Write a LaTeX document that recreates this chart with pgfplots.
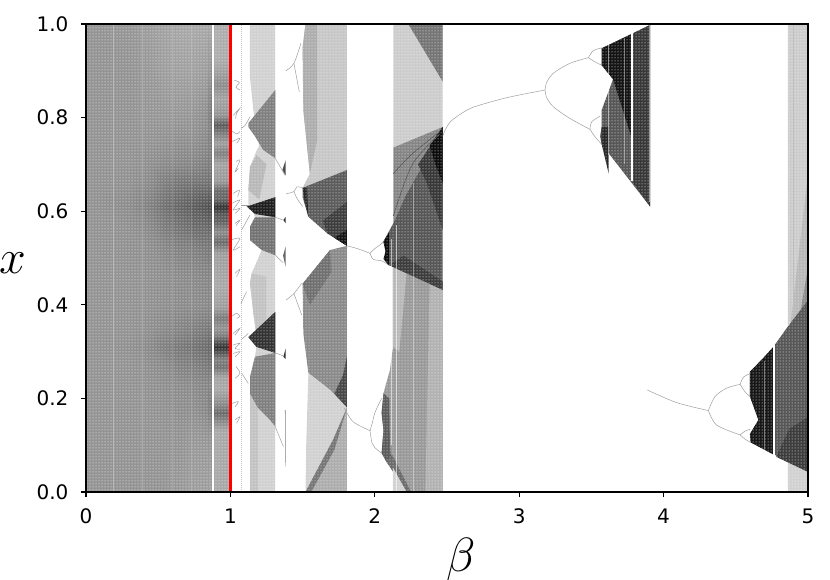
\documentclass[border=0pt]{standalone}
\usepackage{fontspec}
\setmainfont{DejaVu Sans}
\usepackage{pgfplots}
\pgfplotsset{compat=1.18}
\usetikzlibrary{patterns}

% polygon: #1 = darkness (percent black), #2 = outline
\newcommand\poly[2]{\addplot[draw=none,fill=black!#1,mark=none,forget plot] coordinates {#2} --cycle;}
% thin branch of the diagram
\newcommand\br[1]{\addplot[black!38,line width=0.5pt,mark=none,smooth,tension=0.5,forget plot] coordinates {#1};}
% light streak
\newcommand\st[3]{\addplot[white,opacity=#3,line width=0.8pt,mark=none,forget plot] coordinates {#1 #2};}
% fine regular grain of the sampling over a strip
\newcommand\grain[2]{\addplot[draw=none,pattern=dots,pattern color=white,forget plot] coordinates {(#1,0)(#2,0)(#2,1)(#1,1)} --cycle;}

\begin{document}
\begin{tikzpicture}
\path[use as bounding box] (-86pt,-88pt) rectangle (744pt,492pt);
\begin{axis}[
    scale only axis,
    width=722pt,
    height=468pt,
    at={(0pt,0pt)},
    anchor=south west,
    xmin=0, xmax=5,
    ymin=0, ymax=1,
    xtick={0,1,2,3,4,5},
    ytick={0,0.2,0.4,0.6,0.8,1},
    xtick pos=bottom,
    ytick pos=left,
    tick align=outside,
    major tick length=5pt,
    tick style={black,line width=1.2pt},
    axis line style={line width=1.4pt},
    axis on top,
    /pgf/number format/assume math mode=true,
    tick label style={font=\fontsize{20}{24}\selectfont},
    yticklabel style={xshift=-9pt,/pgf/number format/fixed,/pgf/number format/fixed zerofill,/pgf/number format/precision=1},
    xticklabel style={yshift=-8pt,/pgf/number format/fixed,/pgf/number format/precision=0},
    colormap={bk}{gray(0cm)=(0); gray(1cm)=(1)},
    point meta min=0, point meta max=1,
    every axis x label/.style={at={(axis description cs:0.52,-0.145)},anchor=center},
    every axis y label/.style={at={(axis description cs:-0.101,0.49)},anchor=center},
    xlabel={\fontsize{24.88}{30}\selectfont\scalebox{1.93}{$\beta$}},
    ylabel={\fontsize{24.88}{30}\selectfont\scalebox{1.93}{$x$}},
]

% quasi-uniform region, beta < 0.87: mean grey level on a coarse grid
\addplot[surf,shader=interp,mesh/rows=18,mesh/cols=8,point meta=explicit,forget plot]
table[x=b,y=x,meta=g,row sep=\\]{
b x g\\
0 0 .58\\ .3 0 .58\\ .45 0 .58\\ .55 0 .58\\ .65 0 .60\\ .75 0 .62\\ .83 0 .62\\ .872 0 .62\\
0 .1 .58\\ .3 .1 .58\\ .45 .1 .58\\ .55 .1 .58\\ .65 .1 .58\\ .75 .1 .60\\ .83 .1 .60\\ .872 .1 .58\\
0 .17 .58\\ .3 .17 .58\\ .45 .17 .58\\ .55 .17 .57\\ .65 .17 .56\\ .75 .17 .56\\ .83 .17 .54\\ .872 .17 .46\\
0 .23 .58\\ .3 .23 .58\\ .45 .23 .57\\ .55 .23 .56\\ .65 .23 .55\\ .75 .23 .54\\ .83 .23 .53\\ .872 .23 .51\\
0 .27 .58\\ .3 .27 .58\\ .45 .27 .56\\ .55 .27 .54\\ .65 .27 .51\\ .75 .27 .50\\ .83 .27 .48\\ .872 .27 .44\\
0 .31 .58\\ .3 .31 .57\\ .45 .31 .54\\ .55 .31 .50\\ .65 .31 .47\\ .75 .31 .45\\ .83 .31 .43\\ .872 .31 .38\\
0 .35 .58\\ .3 .35 .58\\ .45 .35 .56\\ .55 .35 .54\\ .65 .35 .52\\ .75 .35 .50\\ .83 .35 .48\\ .872 .35 .46\\
0 .4 .58\\ .3 .4 .58\\ .45 .4 .57\\ .55 .4 .56\\ .65 .4 .55\\ .75 .4 .55\\ .83 .4 .54\\ .872 .4 .52\\
0 .46 .58\\ .3 .46 .58\\ .45 .46 .57\\ .55 .46 .56\\ .65 .46 .55\\ .75 .46 .54\\ .83 .46 .53\\ .872 .46 .51\\
0 .52 .58\\ .3 .52 .57\\ .45 .52 .56\\ .55 .52 .53\\ .65 .52 .51\\ .75 .52 .50\\ .83 .52 .48\\ .872 .52 .46\\
0 .56 .58\\ .3 .56 .57\\ .45 .56 .54\\ .55 .56 .49\\ .65 .56 .46\\ .75 .56 .43\\ .83 .56 .43\\ .872 .56 .40\\
0 .61 .58\\ .3 .61 .55\\ .45 .61 .50\\ .55 .61 .44\\ .65 .61 .40\\ .75 .61 .36\\ .83 .61 .33\\ .872 .61 .28\\
0 .66 .58\\ .3 .66 .57\\ .45 .66 .54\\ .55 .66 .49\\ .65 .66 .46\\ .75 .66 .45\\ .83 .66 .45\\ .872 .66 .42\\
0 .7 .58\\ .3 .7 .58\\ .45 .7 .56\\ .55 .7 .54\\ .65 .7 .53\\ .75 .7 .52\\ .83 .7 .50\\ .872 .7 .46\\
0 .75 .58\\ .3 .75 .58\\ .45 .75 .58\\ .55 .75 .57\\ .65 .75 .56\\ .75 .75 .56\\ .83 .75 .54\\ .872 .75 .46\\
0 .8 .58\\ .3 .8 .58\\ .45 .8 .59\\ .55 .8 .59\\ .65 .8 .59\\ .75 .8 .58\\ .83 .8 .56\\ .872 .8 .44\\
0 .9 .58\\ .3 .9 .58\\ .45 .9 .60\\ .55 .9 .62\\ .65 .9 .63\\ .75 .9 .63\\ .83 .9 .62\\ .872 .9 .56\\
0 1 .58\\ .3 1 .59\\ .45 1 .62\\ .55 1 .64\\ .65 1 .66\\ .75 1 .66\\ .83 1 .66\\ .872 1 .66\\
};
\grain{0}{.872}

% band between the white line and beta = 1, with its dark stripes
\addplot[surf,shader=interp,mesh/rows=35,mesh/cols=2,point meta=explicit,forget plot]
table[x=b,y=x,meta=g,row sep=\\]{
b x g\\
.884 0 .66\\ .99 0 .66\\ .884 .13 .66\\ .99 .13 .66\\ .884 .15 .55\\ .99 .15 .55\\ .884 .169 .42\\ .99 .169 .42\\
.884 .19 .55\\ .99 .19 .55\\ .884 .22 .66\\ .99 .22 .66\\ .884 .245 .64\\ .99 .245 .64\\ .884 .267 .45\\ .99 .267 .45\\
.884 .285 .5\\ .99 .285 .5\\ .884 .31 .2\\ .99 .31 .2\\ .884 .335 .5\\ .99 .335 .5\\ .884 .35 .58\\ .99 .35 .58\\
.884 .372 .48\\ .99 .372 .48\\ .884 .395 .62\\ .99 .395 .62\\ .884 .44 .66\\ .99 .44 .66\\ .884 .51 .62\\ .99 .51 .62\\
.884 .534 .42\\ .99 .534 .42\\ .884 .555 .55\\ .99 .555 .55\\ .884 .58 .38\\ .99 .58 .38\\ .884 .595 .35\\ .99 .595 .35\\
.884 .61 .2\\ .99 .61 .2\\ .884 .625 .4\\ .99 .625 .4\\ .884 .645 .42\\ .99 .645 .42\\ .884 .665 .6\\ .99 .665 .6\\
.884 .7 .64\\ .99 .7 .64\\ .884 .724 .5\\ .99 .724 .5\\ .884 .745 .62\\ .99 .745 .62\\ .884 .765 .5\\ .99 .765 .5\\
.884 .784 .36\\ .99 .784 .36\\ .884 .805 .58\\ .99 .805 .58\\ .884 .84 .64\\ .99 .84 .64\\ .884 .87 .55\\ .99 .87 .55\\
.884 .895 .62\\ .99 .895 .62\\ .884 .93 .68\\ .99 .93 .68\\ .884 1 .68\\ .99 1 .68\\
};
\grain{.884}{.99}

% pale vertical streaks in the left region
\st{(.19,0)}{(.19,1)}{.3}
\st{(.39,0)}{(.39,1)}{.2}
\st{(.6,0)}{(.6,1)}{.15}
\st{(.73,0)}{(.73,1)}{.15}

% band near beta = 1.2: pale base, then wedges
\poly{18}{(1.135,1)(1.31,1)(1.31,0)(1.136,0)(1.136,.21)(1.136,.246)(1.17,.289)(1.18,.31)(1.124,.331)(1.175,.346)(1.159,.382)(1.136,.446)(1.147,.467)(1.217,.517)(1.136,.538)(1.136,.567)(1.17,.587)(1.16,.597)(1.124,.615)(1.124,.645)(1.136,.695)(1.182,.73)(1.2,.74)(1.17,.79)(1.159,.816)(1.135,.887)}
\poly{24}{(1.136,0)(1.19,0)(1.19,.18)(1.136,.21)}
\poly{28}{(1.182,.72)(1.136,.695)(1.124,.645)(1.2,.625)(1.25,.7)}
\poly{24}{(1.147,.467)(1.136,.446)(1.159,.382)(1.175,.346)(1.25,.37)(1.25,.46)}
\poly{50}{(1.124,.788)(1.311,.859)(1.311,.713)(1.227,.731)(1.17,.76)(1.124,.78)}
\poly{55}{(1.17,.587)(1.136,.567)(1.136,.538)(1.217,.517)(1.311,.506)(1.311,.587)}
\poly{50}{(1.17,.289)(1.136,.246)(1.136,.21)(1.19,.18)(1.274,.154)(1.311,.14)(1.311,.297)}
\poly{88}{(1.113,.61)(1.311,.63)(1.311,.587)(1.17,.594)}
\poly{80}{(1.124,.331)(1.311,.385)(1.311,.297)(1.18,.31)}

% band 1.5 to 1.8
\poly{22}{(1.52,1)(1.807,1)(1.807,.688)(1.5,.65)(1.55,.68)(1.505,.816)(1.5,.95)}
\poly{32}{(1.52,1)(1.6,1)(1.6,.75)(1.55,.68)(1.505,.816)(1.5,.95)}
\poly{64}{(1.50,.65)(1.807,.688)(1.807,.526)(1.67,.553)(1.54,.588)(1.5,.63)}
\poly{76}{(1.807,.62)(1.807,.526)(1.67,.553)(1.64,.58)}
\poly{92}{(1.807,.56)(1.807,.526)(1.72,.543)}
\poly{84}{(1.5,.65)(1.515,.62)(1.54,.588)(1.53,.65)}
\poly{46}{(1.5,.445)(1.69,.517)(1.807,.526)(1.807,.18)(1.69,.218)(1.54,.254)(1.505,.339)}
\poly{56}{(1.5,.445)(1.69,.517)(1.70,.47)(1.55,.40)}
\poly{72}{(1.72,.21)(1.807,.18)(1.807,.29)(1.78,.25)}
\poly{18}{(1.54,.254)(1.69,.218)(1.807,.18)(1.71,.111)(1.52,0)(1.525,.1)}
\poly{32}{(1.52,0)(1.71,.111)(1.807,.18)(1.807,0)}
\poly{54}{(1.52,0)(1.71,.111)(1.807,.18)(1.72,.09)(1.56,0)}

% band 2.13 to 2.47
\poly{20}{(2.128,1)(2.47,1)(2.47,.78)(2.128,.736)}
\poly{54}{(2.232,1)(2.47,1)(2.47,.877)}
\poly{40}{(2.126,.481)(2.47,.432)(2.47,0)(2.22,0)(2.08,.065)(2.047,.083)(2.06,.132)(2.047,.169)(2.06,.211)(2.105,.261)(2.126,.31)}
\poly{30}{(2.35,0)(2.47,0)(2.47,.432)(2.38,.445)}
\poly{28}{(2.126,.481)(2.22,.467)(2.17,.3)(2.126,.31)}
\poly{64}{(2.06,.211)(2.047,.169)(2.06,.132)(2.047,.083)(2.08,.065)(2.12,.05)(2.105,.1)(2.10,.2)}
\poly{58}{(2.08,.065)(2.22,0)(2.25,0)(2.12,.08)}
\poly{18}{(2.126,0)(2.22,0)(2.126,.052)}
\poly{48}{(2.128,.736)(2.47,.78)(2.47,.745)(2.313,.688)(2.209,.631)(2.128,.574)}
\poly{66}{(2.059,.535)(2.128,.574)(2.209,.631)(2.313,.688)(2.45,.745)(2.47,.78)(2.47,.432)(2.094,.485)}
\poly{78}{(2.47,.78)(2.47,.56)(2.36,.66)(2.3,.70)}
\poly{95}{(2.47,.78)(2.47,.66)(2.42,.70)(2.38,.74)}
\poly{76}{(2.1,.485)(2.47,.432)(2.47,.45)(2.2,.505)}
\poly{95}{(2.06,.535)(2.10,.555)(2.10,.485)(2.094,.485)(2.06,.498)(2.075,.515)}
\addplot[black!66,line width=0.7pt,smooth,forget plot] coordinates {(2.128,.68)(2.25,.72)(2.45,.77)};
\addplot[black!66,line width=0.7pt,smooth,forget plot] coordinates {(2.128,.59)(2.26,.70)(2.45,.765)};

% right-hand pale band
\poly{20}{(4.86,1)(5,1)(5,.41)(4.86,.355)}
\poly{18}{(4.86,0)(5,0)(5,.043)(4.86,.065)}
\poly{28}{(4.88,.36)(5,.68)(5,.41)}
\poly{46}{(4.95,.39)(5,.48)(5,.41)}
\addplot[black!26,line width=0.8pt,forget plot] coordinates {(4.9,1)(4.9,.36)};

% band 3.57 to 3.9
\poly{66}{(3.571,.948)(3.906,.998)(3.906,.61)(3.571,.743)(3.56,.76)(3.571,.78)(3.571,.816)(3.65,.882)(3.571,.912)(3.58,.93)}
\poly{78}{(3.79,.98)(3.906,.998)(3.906,.61)(3.79,.66)}
\poly{92}{(3.571,.948)(3.775,.978)(3.775,.76)(3.65,.882)(3.571,.912)}
\poly{84}{(3.571,.743)(3.571,.78)(3.62,.78)(3.62,.68)}

% band 4.6 to 5
\poly{66}{(4.598,.257)(4.69,.286)(4.76,.31)(4.852,.35)(5,.41)(5,.043)(4.603,.106)(4.598,.124)(4.657,.154)(4.598,.204)}
\poly{91}{(4.598,.257)(4.69,.286)(4.76,.31)(4.76,.08)(4.603,.106)(4.598,.124)(4.657,.154)(4.598,.204)}
\poly{76}{(5,.043)(5,.16)(4.87,.135)(4.78,.075)}

\grain{1.12}{1.311}
\grain{1.5}{1.807}
\grain{2.04}{2.47}
\grain{3.56}{3.906}
\grain{4.598}{5}

% gaps and streaks inside the bands
\st{(2.147,0)}{(2.147,.57)}{.6}
\st{(2.27,0)}{(2.27,.66)}{.4}
\st{(2.115,.1)}{(2.115,.54)}{.6}
\addplot[white,line width=2.2pt,forget plot] coordinates {(3.782,1)(3.782,.665)};
\st{(3.62,.72)}{(3.62,.97)}{.5}
\st{(3.73,.7)}{(3.73,.97)}{.4}
\st{(3.9,.62)}{(3.9,1)}{.5}
\addplot[white,line width=2.4pt,forget plot] coordinates {(4.766,.315)(4.766,.075)};
\st{(4.7,.08)}{(4.7,.28)}{.4}

% small marks at beta = 1.38
\poly{70}{(1.36,.688)(1.383,.709)(1.383,.676)}
\poly{80}{(1.367,.581)(1.383,.588)(1.383,.574)}
\poly{60}{(1.365,.505)(1.383,.525)(1.383,.481)}
\poly{80}{(1.367,.289)(1.383,.307)(1.383,.284)}
\poly{50}{(1.378,.175)(1.383,.175)(1.383,.054)(1.38,.054)}
\br{(1.311,.713)(1.378,.677)}
\br{(1.311,.587)(1.367,.581)}
\br{(1.311,.506)(1.365,.49)}
\br{(1.311,.297)(1.367,.291)}
\br{(1.31,.14)(1.367,.097)}

% branches between beta = 1 and the band
\addplot[black!25,line width=0.4pt,dash pattern=on 1pt off 1pt,forget plot] coordinates {(1.073,0)(1.073,1)};
\br{(1.027,.880)(1.062,.875)(1.039,.865)(1.066,.859)}
\br{(1.020,.805)(1.066,.820)(1.043,.809)(1.036,.798)}
\br{(1.004,.773)(1.043,.765)(1.066,.770)}
\br{(1.013,.749)(1.066,.756)(1.043,.745)}
\br{(1.039,.706)(1.066,.709)(1.032,.684)(1.055,.692)}
\br{(1.020,.638)(1.062,.645)(1.050,.631)}
\br{(1.013,.617)(1.066,.624)(1.020,.603)(1.066,.606)(1.032,.595)}
\br{(1.032,.574)(1.066,.581)(1.039,.569)}
\br{(1.009,.539)(1.066,.542)(1.020,.517)(1.066,.524)}
\br{(1.032,.467)(1.066,.476)(1.043,.460)}
\br{(1.009,.375)(1.043,.382)(1.066,.375)(1.043,.371)}
\br{(1.020,.339)(1.066,.350)(1.032,.335)}
\br{(1.020,.314)(1.066,.318)(1.032,.307)(1.066,.305)}
\br{(1.020,.296)(1.066,.300)(1.032,.289)}
\br{(1.039,.268)(1.066,.254)(1.032,.243)}
\br{(1.009,.189)(1.055,.193)(1.032,.182)}
\br{(1.032,.154)(1.066,.161)(1.043,.147)}
\br{(1.073,.777)(1.101,.783)(1.136,.802)}
\br{(1.073,.613)(1.136,.613)}
\br{(1.136,.592)(1.078,.56)}
\br{(1.078,.326)(1.124,.339)}
\br{(1.073,.403)(1.112,.428)}
\br{(1.078,.254)(1.124,.232)}

% branches before beta = 1.5
\br{(1.385,.90)(1.44,.916)(1.489,.959)}
\br{(1.44,.916)(1.477,.855)}
\br{(1.385,.637)(1.44,.642)(1.46,.652)(1.5,.65)}
\br{(1.44,.642)(1.46,.628)(1.5,.61)}
\br{(1.385,.41)(1.44,.424)(1.494,.446)}
\br{(1.44,.424)(1.494,.378)}

% branches before beta = 2.1
\br{(1.807,.526)(1.88,.52)(1.967,.51)}
\br{(1.967,.51)(2.0,.52)(2.036,.528)(2.06,.535)}
\br{(1.967,.51)(1.99,.497)(2.048,.494)(2.094,.485)}
\br{(1.79,.179)(1.85,.15)(1.967,.131)}
\br{(1.967,.131)(1.985,.15)(2.0,.169)(2.047,.2)}
\br{(1.967,.131)(1.98,.105)(2.0,.095)(2.047,.083)}

% main branch and its doublings
\br{(2.47,.76)(2.49,.775)(2.52,.79)(2.567,.802)(2.65,.818)(2.73,.827)(2.92,.843)(3.179,.859)}
\br{(3.179,.859)(3.19,.875)(3.237,.895)(3.352,.916)(3.479,.928)}
\br{(3.179,.859)(3.19,.843)(3.237,.823)(3.352,.798)(3.49,.775)}
\br{(3.479,.928)(3.513,.943)(3.571,.949)}
\br{(3.479,.928)(3.525,.919)(3.571,.912)}
\br{(3.49,.775)(3.502,.791)(3.56,.803)}
\br{(3.49,.775)(3.525,.759)(3.571,.743)}

% lower branch and its doublings
\br{(3.887,.218)(4.09,.191)(4.31,.174)}
\br{(4.31,.174)(4.356,.204)(4.437,.222)(4.53,.230)}
\br{(4.31,.174)(4.367,.143)(4.53,.122)}
\br{(4.53,.23)(4.552,.245)(4.598,.253)}
\br{(4.53,.23)(4.564,.214)(4.598,.204)}
\br{(4.53,.122)(4.564,.13)(4.598,.134)}
\br{(4.53,.122)(4.564,.113)(4.603,.106)}

% the line at beta = 1
\addplot[red,line width=2.4pt,forget plot] coordinates {(1,0)(1,1)};
\end{axis}
\end{tikzpicture}
\end{document}
